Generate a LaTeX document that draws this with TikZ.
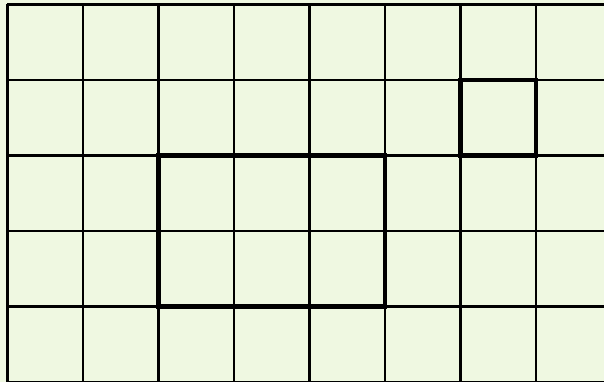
\documentclass[tikz,border=0pt]{standalone}
\definecolor{PaperGreen}{HTML}{EFF8E1}
\usepackage{tikz}

\begin{document}
\begin{tikzpicture}[
    gridline/.style={draw=black, line width=0.8pt},
    boxline/.style={draw=black, line width=1.8pt}
  ]
    % background and page size
    \fill[PaperGreen] (-0.0993,0) rectangle (7.9007,5.0596);
    \useasboundingbox (-0.0993,0) rectangle (7.9007,5.0596);
    % the grid
    \draw[gridline] (0,0) grid (8,5);
    % marked regions
    \draw[boxline] (2,1) rectangle (5,3);
    \draw[boxline] (6,3) rectangle (7,4);
  \end{tikzpicture}
\end{document}
